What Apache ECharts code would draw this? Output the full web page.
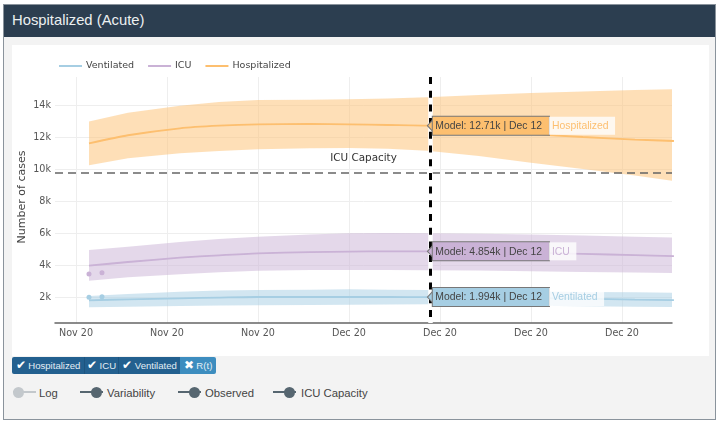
<!DOCTYPE html>
<html>
<head>
<meta charset="utf-8">
<script src="https://cdn.jsdelivr.net/npm/echarts@6/dist/echarts.min.js"></script>
<style>
html, body { margin: 0; padding: 0; background: #fff; overflow: hidden; }
body { width: 722px; height: 425px; position: relative; font-family: "Liberation Sans", Arial, sans-serif; }
#panel { position: absolute; left: 3px; top: 4px; width: 711px; height: 414px; background: #f3f3f3; border: 1px solid #8a939c; }
#head { position: absolute; left: 0; top: 0; width: 711px; height: 32px; background: #2c3e50; color: #ecf0f1; font-size: 14.8px; line-height: 31px; text-indent: 8px; }
#plot { position: absolute; left: 12px; top: 45px; width: 697px; height: 311px; background: #fff; }
#main { position: absolute; left: 0; top: 0; width: 722px; height: 425px; }
.btn { position: absolute; top: 357px; height: 17px; line-height: 17px; background: #23608f; color: #e4eef5; font-size: 9.6px; text-align: center; white-space: nowrap; }
.btn b { font-size: 11.5px; font-weight: normal; color: #fff; }
.sw { position: absolute; top: 386px; font-size: 11.3px; line-height: 14px; color: #444; }
.track { position: absolute; top: 391px; width: 23px; height: 2px; background: #566670; }
.knob { position: absolute; top: 387px; width: 11px; height: 11px; border-radius: 6px; background: #566670; }
</style>
</head>
<body>
<div id="panel"><div id="head">Hospitalized (Acute)</div></div>
<div id="plot"></div>
<div class="btn" style="left:12px;width:72px;border-radius:2px 0 0 2px"><b>✔</b> Hospitalized</div>
<div class="btn" style="left:84px;width:34px;border-left:1px solid #1d5480;box-sizing:border-box"><b>✔</b> ICU</div>
<div class="btn" style="left:118px;width:62px;border-left:1px solid #1d5480;box-sizing:border-box"><b>✔</b> Ventilated</div>
<div class="btn" style="left:180px;width:36px;background:#3d8dbf;border-radius:0 2px 2px 0"><b>✖</b> R(t)</div>
<div class="track" style="left:13px;background:#c3c8cc"></div><div class="knob" style="left:13px;background:#c3c8cc"></div><div class="sw" style="left:39px">Log</div>
<div class="track" style="left:80px"></div><div class="knob" style="left:91px"></div><div class="sw" style="left:107px">Variability</div>
<div class="track" style="left:178px"></div><div class="knob" style="left:189px"></div><div class="sw" style="left:205px">Observed</div>
<div class="track" style="left:273px"></div><div class="knob" style="left:284px"></div><div class="sw" style="left:301px">ICU Capacity</div>
<div id="main"></div>
<script>
var dates = ['2020-11-16','2020-11-19','2020-11-23','2020-11-26','2020-11-29','2020-12-03','2020-12-06','2020-12-09','2020-12-12','2020-12-16','2020-12-20','2020-12-24','2020-12-28','2020-12-31'];

var hospMid = [11606,12110,12544,12706,12794,12812,12794,12750,12710,12470,12190,12000,11840,11750];
var hospUp  = [12970,13520,13950,14190,14310,14335,14356,14400,14490,14625,14750,14840,14940,14980];
var hospLow = [10231,10669,10981,11125,11231,11300,11310,11269,11144,10810,10390,10000,9590,9250];

var icuMid = [3956,4188,4456,4606,4731,4800,4840,4854,4854,4820,4760,4690,4620,4560];
var icuUp  = [4938,5144,5438,5625,5770,5900,5980,6000,5980,5950,5900,5840,5770,5710];
var icuLow = [3019,3231,3419,3544,3644,3680,3690,3690,3670,3650,3610,3570,3530,3500];

var ventMid = [1794,1856,1919,1960,2000,2000,2000,2000,1994,1970,1930,1890,1840,1810];
var ventUp  = [2060,2188,2331,2400,2438,2460,2480,2460,2440,2400,2360,2320,2290,2270];
var ventLow = [1356,1394,1438,1462,1481,1500,1520,1530,1540,1490,1450,1420,1390,1375];

var obsDates = ['2020-11-16','2020-11-17'];
var icuObs = [3438,3519];
var ventObs = [1980,2020];

var names = ['Ventilated','ICU','Hospitalized'];
var colors = ['#a6cee3','#cab2d6','#fdbf6f'];
var modelAtCursor = [1994,4854,12710];
var modelText = ['1.994k','4.854k','12.71k'];
var cursorLabel = 'Dec 12';

var icuCapacity = 9750;
var yTicks = [2000,4000,6000,8000,10000,12000,14000];
var xTicks = ['2020-11-15','2020-11-22','2020-11-29','2020-12-06','2020-12-13','2020-12-20','2020-12-27'];

function t(d){ return new Date(d + 'T00:00:00Z').getTime(); }
function pairs(ds, vs){ return vs.map(function(v, i){ return [t(ds[i]), v]; }); }

var cursor = t('2020-12-12') + 5.5 * 3600000;
var xMin = t('2020-11-15') - 1.615 * 86400000;
var xMax = t('2020-11-15') + 45.85 * 86400000;
var yMin = 375, yMax = 15750;

function band(name, idx, mid, up, low){
    var color = colors[idx];
    var upper = pairs(dates, up);
    var lower = pairs(dates, low).reverse();
    return [{
        type: 'custom', name: name + ' band', silent: true, z: 2, clip: true,
        data: [upper[0]],
        renderItem: function(params, api){
            var pts = upper.concat(lower).map(function(p){ return api.coord(p); });
            return { type: 'polygon', shape: { points: pts }, style: { fill: color, opacity: 0.5 } };
        }
    }, {
        type: 'line', name: name, data: pairs(dates, mid),
        smooth: 0.2, showSymbol: false, silent: true,
        itemStyle: { color: color }, lineStyle: { color: color, width: 1.8 }, z: 3
    }];
}

var series = []
    .concat(band('Hospitalized', 2, hospMid, hospUp, hospLow))
    .concat(band('ICU', 1, icuMid, icuUp, icuLow))
    .concat(band('Ventilated', 0, ventMid, ventUp, ventLow));

series.push({
    type: 'scatter', name: 'ICU observed', data: pairs(obsDates, icuObs), symbolSize: 5,
    itemStyle: { color: colors[1], opacity: 1 }, silent: true, z: 4
});
series.push({
    type: 'scatter', name: 'Ventilated observed', data: pairs(obsDates, ventObs), symbolSize: 5,
    itemStyle: { color: colors[0], opacity: 1 }, silent: true, z: 4
});

// icu capacity and the cursor go on empty line series
series.push({
    type: 'line', name: 'marks', data: [], silent: true, z: 5,
    markLine: {
        symbol: 'none', silent: true, animation: false, z: 5,
        data: [{
            yAxis: icuCapacity,
            lineStyle: { color: '#666', type: [8, 5], width: 1.5 },
            label: { show: true, formatter: 'ICU Capacity', position: 'insideMiddleTop', distance: 10, color: '#333', fontSize: 10.4, fontFamily: 'DejaVu Sans' }
        }, {
            xAxis: cursor,
            lineStyle: { color: '#fff', type: 'solid', width: 4.5 },
            label: { show: false }
        }]
    }
});
series.push({
    type: 'line', name: 'cursor', data: [], silent: true, z: 6,
    markLine: {
        symbol: 'none', silent: true, animation: false, z: 6,
        data: [[
            { xAxis: cursor, yAxis: yMax, lineStyle: { color: '#000', type: [7, 6.7], width: 3 }, label: { show: false } },
            { xAxis: cursor, yAxis: 625 }
        ]]
    }
});

// hover labels at the cursor
names.forEach(function(name, i){
    series.push({
        type: 'scatter', name: name + ' label', silent: true, z: 10,
        data: [[cursor, modelAtCursor[i]]],
        symbol: 'triangle', symbolSize: [11, 5], symbolRotate: 90,
        itemStyle: { color: colors[i], borderColor: '#777', borderWidth: 1, opacity: 1 },
        label: {
            show: true, position: 'right', distance: 0,
            formatter: '{a|Model: ' + modelText[i] + ' | ' + cursorLabel + '}{b|' + name + '}',
            rich: {
                a: { backgroundColor: colors[i], borderColor: '#777', borderWidth: 1, color: '#444', padding: [4.5, 7, 3.5, 2.5], fontSize: 10.4, fontFamily: 'Liberation Sans' },
                b: { backgroundColor: 'rgba(255,255,255,0.8)', color: colors[i], padding: [4.5, 6.5, 3.5, 3], fontSize: 10.4, fontFamily: 'Liberation Sans' }
            }
        }
    });
});

var option = {
    animation: false,
    backgroundColor: 'transparent',
    legend: {
        left: 54, top: 56, itemWidth: 23, itemHeight: 2, itemGap: 14, icon: 'rect',
        data: names, selectedMode: false,
        textStyle: { color: '#444', fontSize: 9.5, fontFamily: 'DejaVu Sans', padding: [0, 0, 0, -1] }
    },
    grid: { left: 55, top: 77, width: 617, height: 246 },
    xAxis: {
        type: 'value', min: xMin, max: xMax,
        axisLine: { onZero: false, lineStyle: { color: '#666', width: 1.5 } },
        axisTick: { show: false, customValues: xTicks.map(t) },
        axisLabel: {
            customValues: xTicks.map(t), color: '#555', fontSize: 9.6, fontFamily: 'DejaVu Sans', margin: 5,
            formatter: function(v){ return echarts.time.format(v, '{MMM} {yy}', true); }
        },
        splitLine: { show: true, lineStyle: { color: '#eee', width: 1 } }
    },
    yAxis: {
        type: 'value', min: yMin, max: yMax,
        name: 'Number of cases', nameLocation: 'middle', nameGap: 27, nameRotate: 90, nameMoveOverlap: false,
        nameTextStyle: { color: '#444', fontSize: 11, fontFamily: 'DejaVu Sans', padding: [0, 0, 0, 6] },
        axisLine: { show: false },
        axisTick: { show: false, customValues: yTicks },
        axisLabel: {
            customValues: yTicks, color: '#555', fontSize: 9.6, fontFamily: 'DejaVu Sans', margin: 4,
            formatter: function(v){ return (v / 1000) + 'k'; }
        },
        splitLine: { show: true, lineStyle: { color: '#eee', width: 1 } }
    },
    series: series
};

var myChart = echarts.init(document.getElementById('main'), null, { renderer: 'canvas' });
myChart.setOption(option);
</script>
</body>
</html>
